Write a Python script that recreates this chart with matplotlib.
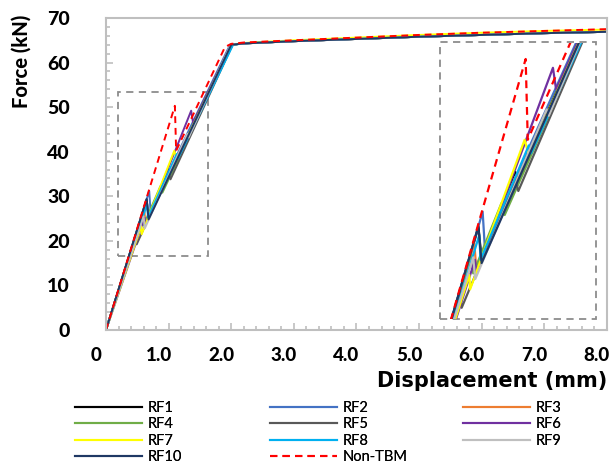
import matplotlib
matplotlib.use("Agg")
import matplotlib.pyplot as plt
from matplotlib.patches import Rectangle
from matplotlib.ticker import MultipleLocator, FuncFormatter
from matplotlib.lines import Line2D
import matplotlib.transforms as mtransforms

plt.rcParams['font.family'] = ['Lato', 'DejaVu Sans']

# post-yield part shared by the RF curves
tail_x = [2.2, 3.0, 4.0, 5.0, 6.0, 7.0, 8.0]
tail_y = [64.3, 64.8, 65.3, 65.8, 66.2, 66.6, 66.9]

rf1_x = [0, 0.65, 0.68, 1.00, 1.02, 2.00] + tail_x
rf1_y = [0, 29.3, 25.2, 36.2, 35.3, 64.0] + tail_y
rf2_x = [0, 0.69, 0.71, 1.98] + tail_x
rf2_y = [0, 31.2, 26.9, 64.0] + tail_y
rf3_x = [0, 0.61, 0.63, 1.00, 1.02, 2.01] + tail_x
rf3_y = [0, 27.3, 24.0, 35.5, 34.8, 64.0] + tail_y
rf4_x = [0, 0.58, 0.60, 0.87, 0.90, 2.02] + tail_x
rf4_y = [0, 26.0, 23.5, 32.3, 30.8, 64.0] + tail_y
rf5_x = [0, 0.474, 0.49, 1.00, 1.03, 2.02] + tail_x
rf5_y = [0, 21.3, 19.2, 35.2, 33.8, 64.0] + tail_y
rf6_x = [0, 0.617, 0.63, 1.36, 1.39, 2.00] + tail_x
rf6_y = [0, 25.2, 23.5, 49.2, 46.5, 64.0] + tail_y
rf7_x = [0, 0.563, 0.57, 1.09, 1.13, 2.00] + tail_x
rf7_y = [0, 23.3, 21.5, 40.2, 38.3, 64.0] + [64.4, 65.0, 65.6, 66.2, 66.7, 67.1, 67.4]
rf8_x = [0, 0.658, 0.67, 1.13, 1.15, 2.03] + tail_x
rf8_y = [0, 28.3, 25.2, 39.5, 38.5, 64.0] + tail_y
rf9_x = [0, 0.60, 0.62, 1.30, 1.32, 1.99] + tail_x
rf9_y = [0, 25.5, 22.8, 44.0, 43.2, 64.0] + tail_y
rf10_x = [0, 0.649, 0.68, 2.00] + tail_x
rf10_y = [0, 29.4, 24.8, 64.0] + tail_y

ntbm_x = [0, 1.10, 1.12, 1.90, 2.00, 2.2, 3.0, 4.0, 5.0, 6.0, 7.0, 8.0]
ntbm_y = [0, 50.3, 40.2, 63.5, 64.2, 64.5, 65.0, 65.6, 66.2, 66.7, 67.1, 67.5]

names = ["RF1", "RF2", "RF3", "RF4", "RF5", "RF6", "RF7", "RF8", "RF9", "RF10"]
xs = [rf1_x, rf2_x, rf3_x, rf4_x, rf5_x, rf6_x, rf7_x, rf8_x, rf9_x, rf10_x]
ys = [rf1_y, rf2_y, rf3_y, rf4_y, rf5_y, rf6_y, rf7_y, rf8_y, rf9_y, rf10_y]
colors = ["#000000", "#4472C4", "#ED7D31", "#70AD47", "#595959",
          "#7030A0", "#FFFF00", "#00B0F0", "#BFBFBF", "#1F3864"]

# dashed boxes (zoom region and magnified copy)
box_small = (0.19, 16.7, 1.44, 36.7)
box_big = (5.34, 2.5, 2.49, 62.1)
inset_xlim = (0.293, 1.78)
inset_ylim = (17.8, 52.3)

W, H = 611, 466
fig = plt.figure(figsize=(W / 100, H / 100), dpi=100)
ax = fig.add_axes([106 / W, 1 - 330 / H, 501 / W, 312 / H])


def draw_series(a, lw):
    for x, y, c, n in zip(xs, ys, colors, names):
        a.plot(x, y, color=c, lw=lw, label=n)
    a.plot(ntbm_x, ntbm_y, color="#FF0000", lw=lw, ls=(0, (3.5, 2.5)), label="Non-TBM")


draw_series(ax, 1.4)
ax.set_xlim(0, 8)
ax.set_ylim(0, 70)

for (bx, by, bw, bh) in [box_small, box_big]:
    ax.add_patch(Rectangle((bx, by), bw, bh, fill=False, ec="#8C8C8C",
                           lw=1.3, ls=(0, (4, 3)), zorder=1))

# magnified view
ins = fig.add_axes([441 / W, 1 - 319 / H, 156 / W, 276 / H])
draw_series(ins, 1.6)
ins.set_xlim(*inset_xlim)
ins.set_ylim(*inset_ylim)
ins.axis("off")
ins.patch.set_alpha(0)

for s in ax.spines.values():
    s.set_color("#BFBFBF")
    s.set_linewidth(1.5)
ax.xaxis.set_major_locator(MultipleLocator(1))
ax.xaxis.set_minor_locator(MultipleLocator(0.2))
ax.yaxis.set_major_locator(MultipleLocator(10))
ax.yaxis.set_minor_locator(MultipleLocator(2))
ax.tick_params(which="both", direction="in", color="#BFBFBF", width=1.2)
ax.tick_params(which="major", length=5)
ax.tick_params(which="minor", length=3)
ax.tick_params(axis="y", which="major", pad=26, labelsize=14)
ax.tick_params(axis="x", which="major", pad=12, labelsize=13.5)
ax.xaxis.set_major_formatter(FuncFormatter(lambda v, p: "0" if v == 0 else f"{v:.1f}"))
for lab in ax.get_xticklabels() + ax.get_yticklabels():
    lab.set_fontweight("black")
shift = mtransforms.ScaledTranslation(-10 / 100, 0, fig.dpi_scale_trans)
for lab in ax.get_xticklabels():
    lab.set_transform(lab.get_transform() + shift)

ax.set_xlabel("Displacement (mm)", fontsize=15, fontweight="bold", ha="right",
              family="DejaVu Sans")
ax.xaxis.set_label_coords(1.0, -0.13)
ax.set_ylabel("Force (kN)", fontsize=14.5, fontweight="black", ha="center")
ax.yaxis.set_label_coords(-0.15, 0.86)

# legend: three fixed-width columns like the original
handles = [Line2D([], [], color=c, lw=1.5) for c in colors]
handles.append(Line2D([], [], color="#FF0000", lw=1.5, ls=(0, (3.5, 2.5))))
labels = names + ["Non-TBM"]
cols = [[0, 3, 6, 9], [1, 4, 7, 10], [2, 5, 8]]
col_x = [75, 270, 463]
for cx, idx in zip(col_x, cols):
    leg = fig.legend([handles[i] for i in idx], [labels[i] for i in idx],
                     loc="upper left", bbox_to_anchor=(cx / W, 1 - 401 / H),
                     frameon=False, fontsize=10.5, handlelength=4.6,
                     handletextpad=0.35, labelspacing=0.17, borderpad=0,
                     borderaxespad=0)
    fig.add_artist(leg)

fig.savefig("out.png", dpi=100)
